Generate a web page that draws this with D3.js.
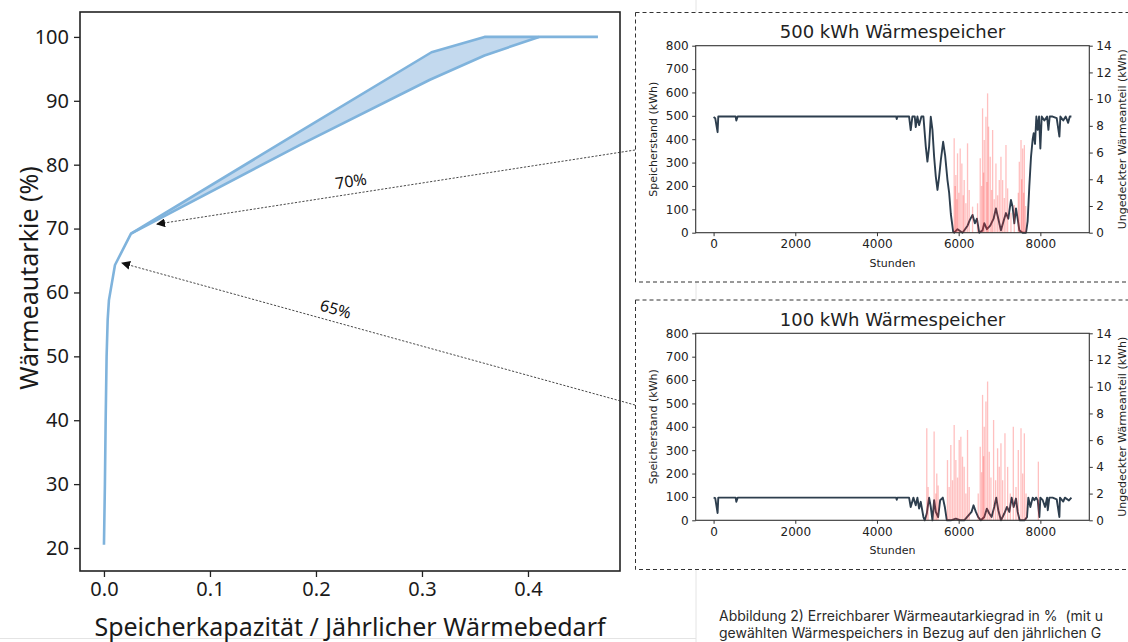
<!DOCTYPE html>
<html>
<head>
<meta charset="utf-8">
<script src="https://cdn.jsdelivr.net/npm/d3@7"></script>
<style>
  body { margin: 0; background: #fff; overflow: hidden; }
  .mpl text { font-family: "DejaVu Sans", sans-serif; fill: #222; }
</style>
</head>
<body>
<div id="chart"></div>
<script>
// Hauptdiagramm: Speicherkapazität / jährlicher Wärmebedarf -> Wärmeautarkie (%)
var capUpper = [0, 0.0009, 0.0016, 0.0025, 0.0035, 0.0047, 0.0104, 0.0255, 0.185, 0.309, 0.359, 0.466];
var autUpper = [20.5, 30, 40, 50, 55.7, 58.8, 64.3, 69.2, 85.2, 97.6, 100, 100];
var capLower = [0.0255, 0.185, 0.3075, 0.359, 0.4104];
var autLower = [69.2, 83.1, 93.3, 97.1, 100];
var capTicks = [0, 0.1, 0.2, 0.3, 0.4];
var autTicks = [20, 30, 40, 50, 60, 70, 80, 90, 100];

// Pfeile zu den Detailplots (Ziel auf der Kurve)
var arrowLabels = ["70%", "65%"];
var arrowCap = [0.05, 0.017];
var arrowAut = [70.7, 64.6];

// 500 kWh Speicher: Speicherstand über die Stunden
var hours500 = [0, 40, 98, 115, 540, 557, 590, 4470, 4484, 4500, 4786, 4826, 4867, 4925, 4949, 4990, 5031, 5088,
  5137, 5195, 5235, 5276, 5317, 5358, 5399, 5440, 5481, 5522, 5563, 5620, 5669, 5726, 5767, 5808, 5865, 5890,
  5972, 6094, 6217, 6274, 6340, 6397, 6446, 6503, 6585, 6626, 6691, 6773, 6855, 6912, 6970, 7035, 7100, 7158,
  7215, 7280, 7321, 7362, 7403, 7444, 7485, 7567, 7649, 7689, 7730, 7771, 7812, 7837, 7869, 7902, 7935, 7968,
  8000, 8033, 8098, 8164, 8197, 8229, 8300, 8400, 8466, 8490, 8560, 8620, 8680, 8720, 8760];
var level500 = [495, 490, 430, 497, 497, 480, 497, 497, 486, 497, 497, 439, 497, 497, 452, 497, 460, 497,
  497, 368, 304, 368, 496, 440, 325, 240, 183, 240, 310, 389, 330, 225, 170, 80, 5, 0,
  15, 0, 30, 55, 76, 40, 60, 0, 10, 41, 15, 30, 60, 104, 60, 10, 50, 84,
  60, 140, 110, 40, 104, 60, 10, 0, 0, 50, 200, 325, 400, 426, 380, 497, 440, 497,
  360, 497, 480, 497, 440, 497, 497, 490, 411, 497, 480, 497, 470, 497, 497];
var spikeHours500 = [5890, 5914, 5931, 5955, 5972, 6004, 6037, 6078, 6111, 6135, 6176, 6217, 6258, 6340, 6462,
  6528, 6561, 6585, 6610, 6626, 6667, 6691, 6708, 6732, 6773, 6806, 6831, 6871, 6912, 6953, 6994, 7035,
  7076, 7117, 7158, 7199, 7280, 7362, 7460, 7485, 7526, 7542, 7567, 7591, 7608, 7640];
var spikeVals500 = [7.07, 3.5, 4.32, 2.5, 5.94, 3.0, 6.31, 5.19, 2.8, 3.94, 2.2, 6.69, 3.19, 1.95, 2.2,
  5.57, 3.5, 9.31, 4.5, 6.94, 8.69, 3.8, 10.43, 7.94, 5.69, 3.2, 7.69, 2.5, 5.19, 2.8, 3.94, 5.69,
  3.94, 2.6, 6.56, 3.32, 1.5, 2.07, 3.0, 5.32, 6.94, 4.0, 6.31, 3.0, 6.56, 2.0];

// 100 kWh Speicher
var hours100 = [0, 40, 98, 115, 540, 557, 590, 4470, 4484, 4500, 4786, 4826, 4892, 4949, 4990, 5031, 5072, 5137,
  5170, 5219, 5276, 5317, 5358, 5399, 5440, 5497, 5547, 5612, 5661, 5710, 5808, 5931, 6053, 6135, 6315, 6364,
  6421, 6479, 6544, 6626, 6691, 6749, 6806, 6871, 6920, 6970, 7035, 7117, 7182, 7240, 7297, 7346, 7403, 7444,
  7493, 7608, 7673, 7706, 7755, 7812, 7853, 7894, 7935, 7976, 8000, 8058, 8115, 8164, 8181, 8220, 8300, 8400,
  8466, 8480, 8560, 8600, 8700, 8760];
var level100 = [97, 95, 31, 97, 97, 79, 97, 97, 88, 97, 97, 57, 97, 64, 97, 50, 79, 14,
  0, 29, 97, 57, 0, 86, 36, 14, 86, 97, 57, 0, 0, 7, 0, 0, 36, 64,
  36, 14, 0, 14, 50, 29, 14, 57, 97, 43, 0, 29, 57, 36, 97, 57, 93, 36,
  0, 0, 14, 97, 57, 97, 86, 97, 86, 14, 97, 86, 57, 97, 43, 97, 97, 90,
  14, 97, 80, 97, 85, 97];
var spikeHours100 = [5219, 5252, 5399, 5440, 5464, 5497, 5726, 5767, 5808, 5849, 5890, 5931, 5972, 6013, 6053,
  6094, 6135, 6176, 6217, 6258, 6479, 6528, 6561, 6585, 6610, 6626, 6667, 6708, 6749, 6790, 6855, 6904,
  6953, 6994, 7035, 7076, 7133, 7199, 7264, 7338, 7403, 7460, 7526, 7567, 7608, 7649, 7951];
var spikeVals100 = [6.89, 2.5, 6.64, 2.0, 3.51, 2.6, 4.51, 2.5, 5.64, 3.0, 7.14, 4.51, 3.2, 6.01, 6.26,
  4.76, 4.0, 2.0, 6.76, 2.5, 2.0, 5.51, 3.6, 9.39, 4.8, 7.01, 8.89, 10.39, 5.14, 3.2, 7.51, 3.0,
  5.39, 4.0, 5.76, 3.0, 6.51, 4.0, 2.0, 7.01, 2.5, 5.26, 6.89, 3.5, 6.51, 2.0, 4.39];

var hourTicks = [0, 2000, 4000, 6000, 8000];
var storageTicks = [0, 100, 200, 300, 400, 500, 600, 700, 800];
var uncoveredTicks = [0, 2, 4, 6, 8, 10, 12, 14];

var W = 1128, H = 642;
var svg = d3.select("#chart").append("svg")
  .attr("width", W).attr("height", H);

// Seitenlinien im Hintergrund
svg.append("line").attr("x1", 696).attr("x2", 696).attr("y1", 0).attr("y2", H)
  .attr("stroke", "#e4e4e4").attr("stroke-width", 1);
svg.append("line").attr("x1", 0).attr("x2", 696).attr("y1", 638.5).attr("y2", 638.5)
  .attr("stroke", "#e4e4e4").attr("stroke-width", 1);

// ---------- Hauptdiagramm ----------
var plot = { left: 80, right: 620, top: 12, bottom: 571 };
var x = d3.scaleLinear().domain([-0.0226, 0.4868]).range([plot.left, plot.right]);
var y = d3.scaleLinear().domain([16.4, 103.9]).range([plot.bottom, plot.top]);

var main = svg.append("g");
var mainFont = "'Noto Sans', 'Open Sans', sans-serif";

var upperPts = capUpper.map(function (c, i) { return [c, autUpper[i]]; });
var lowerPts = capLower.map(function (c, i) { return [c, autLower[i]]; });
var line = d3.line().x(function (d) { return x(d[0]); }).y(function (d) { return y(d[1]); });

// Band zwischen den beiden Kurven
var band = upperPts.filter(function (d) { return d[0] >= 0.0255 && d[0] <= 0.4104; })
  .concat([[0.4104, 100]])
  .concat(lowerPts.slice().reverse());
main.append("path")
  .attr("d", line(band) + "Z")
  .attr("fill", "#c3d9ee")
  .attr("stroke", "none");

main.append("path").attr("d", line(lowerPts))
  .attr("fill", "none").attr("stroke", "#7fb3dc").attr("stroke-width", 2.6)
  .attr("stroke-linejoin", "round");
main.append("path").attr("d", line(upperPts))
  .attr("fill", "none").attr("stroke", "#7fb3dc").attr("stroke-width", 2.6)
  .attr("stroke-linejoin", "round");

// Rahmen
main.append("rect")
  .attr("x", plot.left).attr("y", plot.top)
  .attr("width", plot.right - plot.left).attr("height", plot.bottom - plot.top)
  .attr("fill", "none").attr("stroke", "#222").attr("stroke-width", 1.6);

var xAxis = main.append("g").attr("transform", "translate(0," + plot.bottom + ")")
  .call(d3.axisBottom(x).tickValues(capTicks).tickFormat(d3.format(".1f")).tickSize(6).tickPadding(5));
var yAxis = main.append("g").attr("transform", "translate(" + plot.left + ",0)")
  .call(d3.axisLeft(y).tickValues(autTicks).tickSize(6).tickPadding(5));
[xAxis, yAxis].forEach(function (a) {
  a.select(".domain").remove();
  a.selectAll(".tick line").attr("stroke", "#222").attr("stroke-width", 1.3);
  a.selectAll(".tick text").attr("font-family", mainFont).attr("font-size", 20).attr("fill", "#1a1a1a");
});

main.append("text")
  .attr("x", (plot.left + plot.right) / 2).attr("y", 636)
  .attr("text-anchor", "middle")
  .attr("font-family", mainFont).attr("font-size", 25).attr("fill", "#1a1a1a")
  .text("Speicherkapazität / Jährlicher Wärmebedarf");
main.append("text")
  .attr("transform", "translate(38,278) rotate(-90)")
  .attr("text-anchor", "middle")
  .attr("font-family", mainFont).attr("font-size", 25).attr("fill", "#1a1a1a")
  .text("Wärmeautarkie (%)");

// Pfeilspitze
svg.append("defs").append("marker")
  .attr("id", "head").attr("viewBox", "0 0 10 10")
  .attr("refX", 9).attr("refY", 5)
  .attr("markerWidth", 9).attr("markerHeight", 9)
  .attr("markerUnits", "userSpaceOnUse")
  .attr("orient", "auto")
  .append("path").attr("d", "M0,0 L10,5 L0,10 Z").attr("fill", "#111");

var arrowStart = [[635, 150], [635, 405]];
arrowLabels.forEach(function (lbl, i) {
  var x0 = arrowStart[i][0], y0 = arrowStart[i][1];
  var x1 = x(arrowCap[i]), y1 = y(arrowAut[i]);
  svg.append("line")
    .attr("x1", x0).attr("y1", y0).attr("x2", x1).attr("y2", y1)
    .attr("stroke", "#333").attr("stroke-width", 0.9)
    .attr("stroke-dasharray", "2.2,1.6")
    .attr("marker-end", "url(#head)");
  var ang = Math.atan2(y0 - y1, x0 - x1) * 180 / Math.PI;
  var t = 0.59;
  var lx = x0 + (x1 - x0) * t, ly = y0 + (y1 - y0) * t;
  svg.append("text")
    .attr("transform", "translate(" + lx + "," + ly + ") rotate(" + ang + ") translate(0,-7)")
    .attr("text-anchor", "middle")
    .attr("font-family", mainFont).attr("font-size", 16).attr("fill", "#111")
    .text(lbl);
});

// ---------- Detailplots ----------
function drawPanel(boxTop, frameTop, title, hours, level, spikeHours, spikeVals) {
  var g = svg.append("g").attr("class", "mpl");
  var frame = { left: 695.7, right: 1089.3, top: frameTop, bottom: frameTop + 187 };

  g.append("rect")
    .attr("x", 635.5).attr("y", boxTop)
    .attr("width", 520).attr("height", 269.5)
    .attr("fill", "#fff").attr("stroke", "#333").attr("stroke-width", 1)
    .attr("stroke-dasharray", "4,3");

  var hx = d3.scaleLinear().domain([-438, 9198]).range([frame.left, frame.right]);
  var ly = d3.scaleLinear().domain([0, 800]).range([frame.bottom, frame.top]);
  var ry = d3.scaleLinear().domain([0, 14]).range([frame.bottom, frame.top]);

  var pts = hours.map(function (h, i) { return [h, level[i]]; });
  g.append("path")
    .attr("d", d3.line().x(function (d) { return hx(d[0]); }).y(function (d) { return ly(d[1]); })(pts))
    .attr("fill", "none").attr("stroke", "#2d3e4e").attr("stroke-width", 1.9)
    .attr("stroke-linejoin", "round");

  g.selectAll("line.spike").data(spikeHours).enter().append("line")
    .attr("class", "spike")
    .attr("x1", function (h) { return hx(h); }).attr("x2", function (h) { return hx(h); })
    .attr("y1", ry(0)).attr("y2", function (h, i) { return ry(spikeVals[i]); })
    .attr("stroke", "#ff3030").attr("stroke-opacity", 0.3).attr("stroke-width", 1.3);

  g.append("rect")
    .attr("x", frame.left).attr("y", frame.top)
    .attr("width", frame.right - frame.left).attr("height", frame.bottom - frame.top)
    .attr("fill", "none").attr("stroke", "#333").attr("stroke-width", 1.1);

  var ax = [
    g.append("g").attr("transform", "translate(0," + frame.bottom + ")")
      .call(d3.axisBottom(hx).tickValues(hourTicks).tickFormat(d3.format("d")).tickSize(3.5).tickPadding(3.5)),
    g.append("g").attr("transform", "translate(" + frame.left + ",0)")
      .call(d3.axisLeft(ly).tickValues(storageTicks).tickSize(3.5).tickPadding(3.5)),
    g.append("g").attr("transform", "translate(" + frame.right + ",0)")
      .call(d3.axisRight(ry).tickValues(uncoveredTicks).tickSize(3.5).tickPadding(3.5))
  ];
  ax.forEach(function (a) {
    a.select(".domain").remove();
    a.selectAll(".tick line").attr("stroke", "#333");
    a.selectAll(".tick text").attr("font-size", 12).attr("font-family", "'DejaVu Sans', sans-serif");
  });

  g.append("text")
    .attr("x", (frame.left + frame.right) / 2).attr("y", frame.top - 7.5)
    .attr("text-anchor", "middle").attr("font-size", 18)
    .text(title);
  g.append("text")
    .attr("x", (frame.left + frame.right) / 2).attr("y", frame.bottom + 34)
    .attr("text-anchor", "middle").attr("font-size", 11)
    .text("Stunden");
  g.append("text")
    .attr("transform", "translate(657," + ((frame.top + frame.bottom) / 2) + ") rotate(-90)")
    .attr("text-anchor", "middle").attr("font-size", 11)
    .text("Speicherstand (kWh)");
  g.append("text")
    .attr("transform", "translate(1125.5," + ((frame.top + frame.bottom) / 2) + ") rotate(-90)")
    .attr("text-anchor", "middle").attr("font-size", 11)
    .text("Ungedeckter Wärmeanteil (kWh)");
}

drawPanel(12.5, 45.7, "500 kWh Wärmespeicher", hours500, level500, spikeHours500, spikeVals500);
drawPanel(300, 333.3, "100 kWh Wärmespeicher", hours100, level100, spikeHours100, spikeVals100);

// Bildunterschrift
var caption = svg.append("text")
  .attr("font-family", "Inter, Roboto, sans-serif").attr("font-size", 14).attr("fill", "#2a2a2a");
caption.append("tspan").attr("x", 719).attr("y", 621)
  .text("Abbildung 2) Erreichbarer Wärmeautarkiegrad in % \u00a0(mit u");
caption.append("tspan").attr("x", 719).attr("y", 638)
  .text("gewählten Wärmespeichers in Bezug auf den jährlichen G");
</script>
</body>
</html>
